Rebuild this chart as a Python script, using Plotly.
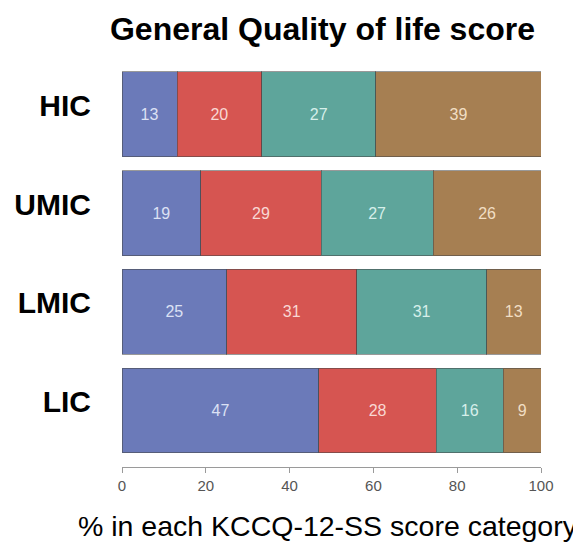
import plotly.graph_objects as go

GROUPS = ["HIC", "UMIC", "LMIC", "LIC"]
CATEGORIES = ["Cat 1", "Cat 2", "Cat 3", "Cat 4"]
CAT_1 = [13, 19, 25, 47]
CAT_2 = [20, 29, 31, 28]
CAT_3 = [27, 27, 31, 16]
CAT_4 = [39, 26, 13, 9]
X_TICKS = [0, 20, 40, 60, 80, 100]

FILL = ["#6B7AB9", "#D65551", "#5EA59B", "#A67F52"]
TEXT = ["#DCE1F4", "#F9D8D4", "#D6EFEA", "#F1DEC4"]
FONT = "Liberation Sans, Arial, sans-serif"

fig = go.Figure()
for name, values, fill, txt in zip(CATEGORIES, [CAT_1, CAT_2, CAT_3, CAT_4], FILL, TEXT):
    fig.add_trace(
        go.Bar(
            y=GROUPS,
            x=values,
            orientation="h",
            name=name,
            marker=dict(color=fill, line=dict(color="rgba(70,70,70,0.55)", width=1)),
            text=[str(v) for v in values],
            textposition="inside",
            insidetextanchor="middle",
            textangle=0,
            textfont=dict(color=txt, size=16, family=FONT),
            showlegend=False,
        )
    )

# page has an 8px body margin, so the figure sits at (8, 8)
fig.update_layout(
    barmode="stack",
    barnorm="percent",
    bargap=0.14,
    width=581,
    height=542,
    margin=dict(l=114, r=48, t=57, b=83),
    paper_bgcolor="white",
    plot_bgcolor="white",
    title=dict(
        text="General Quality of life score",
        x=0.4785,
        xref="paper",
        y=1 - 21 / 542,
        yref="container",
        xanchor="center",
        yanchor="middle",
        automargin=False,
        font=dict(size=32, color="black", family=FONT, weight="bold"),
    ),
    annotations=[
        dict(
            text="% in each KCCQ-12-SS score category",
            x=0.492,
            xref="paper",
            xanchor="center",
            y=-0.146,
            yref="paper",
            yanchor="middle",
            showarrow=False,
            font=dict(size=28.5, color="black", family=FONT),
        )
    ],
)
fig.update_xaxes(
    range=[0, 100],
    tickvals=X_TICKS,
    ticks="outside",
    ticklen=5,
    tickcolor="#9A9A9A",
    showline=True,
    linecolor="#9A9A9A",
    linewidth=1,
    showgrid=False,
    zeroline=False,
    automargin=False,
    ticklabelstandoff=0,
    tickfont=dict(size=15, color="#555555", family=FONT),
)
fig.update_yaxes(
    categoryorder="array",
    categoryarray=GROUPS[::-1],
    range=[-0.572, 3.5],
    showgrid=False,
    showline=False,
    zeroline=False,
    automargin=False,
    ticks="",
    ticklabelstandoff=30,
    ticklabelshift=-9,
    tickfont=dict(size=30, color="black", family=FONT, weight="bold"),
)

fig.write_html("out.html")
